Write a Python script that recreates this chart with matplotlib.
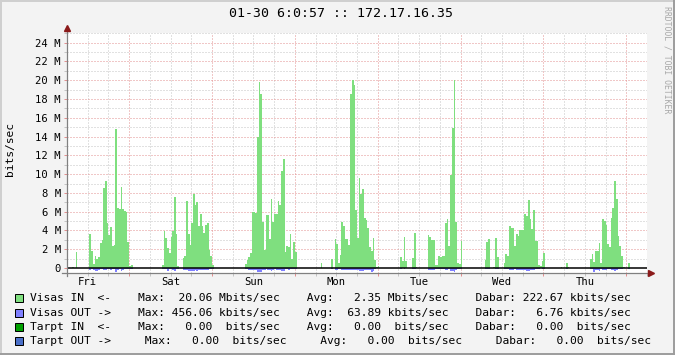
import numpy as np
import matplotlib
matplotlib.use("Agg")
import matplotlib.pyplot as plt
from matplotlib.patches import Rectangle
from matplotlib.lines import Line2D

W, H = 675, 355
MONO = "DejaVu Sans Mono"

TITLE = "01-30 6:0:57 :: 172.17.16.35"
WATERMARK = "RRDTOOL / TOBI OETIKER"
DAYS = ["Fri", "Sat", "Sun", "Mon", "Tue", "Wed", "Thu"]
STEP_H = 0.5  # hours per sample, graph starts Fri 06:00

# Mbit/s, 48 samples per day (each block starts 06:00)
visas_in = [
    0, 0, 0, 0.1, 0, 1.7, 0, 0, 0, 0, 0, 0,
    0, 3.6, 1.85, 0.43, 1.28, 1.0, 1.17, 2.66, 3.0, 8.5, 9.27, 4.83,
    3.55, 4.37, 2.34, 2.45, 14.8, 6.4, 6.3, 8.6, 6.25, 6.1, 5.96, 2.77,
    0.25, 0.32, 0, 0, 0, 0, 0, 0, 0, 0, 0, 0,
    # Sat
    0, 0, 0, 0, 0, 0, 0, 0.3, 3.9, 3.2, 2.13, 1.56,
    3.34, 3.9, 7.56, 3.62, 0.2, 0, 0, 1.06, 1.28, 7.1, 3.6, 2.5,
    4.8, 7.9, 6.75, 7.0, 4.47, 5.75, 4.47, 3.76, 4.6, 4.75, 1.95, 1.3,
    0.28, 0, 0, 0, 0, 0, 0, 0, 0, 0, 0, 0,
    # Sun
    0, 0, 0, 0, 0, 0, 0, 0.43, 0.9, 1.2, 1.6, 5.93,
    5.93, 5.9, 13.95, 19.8, 18.5, 4.9, 1.92, 5.6, 5.6, 3.12, 7.35, 4.9,
    5.75, 5.75, 7.1, 6.7, 10.3, 11.6, 1.7, 2.3, 2.2, 3.6, 1.0, 2.8,
    1.7, 0, 0, 0, 0, 0, 0, 0, 0, 0, 0, 0,
    # Mon
    0, 0, 0, 0.53, 0, 0, 0, 0, 0, 0.96, 0, 3.12,
    2.56, 0.5, 1.38, 4.9, 4.47, 3.1, 3.1, 2.4, 18.5, 20.06, 19.45, 6.17,
    3.2, 9.6, 7.9, 8.4, 5.3, 5.15, 4.26, 2.24, 1.85, 3.2, 0.9, 0.1,
    0.2, 0, 0, 0, 0, 0, 0, 0, 0, 0, 0, 0,
    # Tue
    0, 1.17, 0.7, 3.3, 0.7, 0, 0, 0, 1.06, 3.73, 0.1, 0,
    0, 0, 0, 0, 0, 3.5, 3.3, 3.0, 3.0, 0.32, 0.32, 1.28,
    1.14, 1.28, 1.28, 4.8, 5.2, 2.34, 9.9, 14.9, 20.0, 4.9, 0.53, 0.43,
    2.9, 0, 0, 0, 0, 0, 0, 0, 0, 0, 0, 0,
    # Wed
    0, 0, 0.85, 2.77, 3.1, 0, 0, 0.1, 3.2, 1.17, 0, 0,
    0, 0.53, 1.5, 1.28, 4.47, 4.3, 4.3, 2.34, 3.62, 3.4, 4.05, 4.05,
    4.05, 5.75, 5.54, 7.24, 5.22, 4.12, 6.18, 2.84, 2.84, 0.32, 0.2, 0.7,
    1.56, 0, 0, 0, 0, 0, 0, 0, 0, 0, 0.1, 0,
    # Thu
    0, 0.53, 0.1, 0, 0, 0, 0, 0, 0, 0, 0, 0,
    0, 0, 0, 0.96, 1.5, 0.64, 1.81, 1.81, 2.66, 0.53, 5.22, 5.0,
    4.58, 2.56, 2.24, 5.32, 6.39, 9.27, 7.35, 3.4, 2.34, 1.28, 0.1, 0,
    0, 0.53, 0, 0, 0, 0, 0, 0, 0, 0, 0, 0,
]

# Mbit/s, drawn below the zero line
visas_out = [
    0, 0, 0, 0, 0, 0, 0, 0, 0, 0, 0, 0,
    0, 0.18, 0.15, 0.18, 0.35, 0.33, 0.18, 0.15, 0.15, 0.18, 0.18, 0.15,
    0.15, 0.18, 0.15, 0.15, 0.4, 0.2, 0.15, 0.33, 0.18, 0.15, 0.15, 0.12,
    0.1, 0.1, 0, 0, 0, 0, 0, 0, 0, 0, 0, 0,
    # Sat
    0, 0, 0, 0, 0, 0, 0, 0.15, 0.15, 0.15, 0.28, 0.15,
    0.15, 0.18, 0.28, 0.15, 0.1, 0, 0, 0.18, 0.18, 0.18, 0.35, 0.33,
    0.35, 0.3, 0.2, 0.33, 0.18, 0.18, 0.2, 0.18, 0.18, 0.18, 0.15, 0.12,
    0.1, 0, 0, 0, 0, 0, 0, 0, 0, 0, 0, 0,
    # Sun
    0, 0, 0, 0, 0, 0, 0, 0.12, 0.15, 0.18, 0.18, 0.2,
    0.2, 0.22, 0.42, 0.45, 0.4, 0.18, 0.18, 0.15, 0.18, 0.18, 0.3, 0.18,
    0.15, 0.18, 0.18, 0.18, 0.3, 0.3, 0.15, 0.15, 0.18, 0.15, 0.12, 0.12,
    0.1, 0, 0, 0, 0, 0, 0, 0, 0, 0, 0, 0,
    # Mon
    0, 0, 0, 0.05, 0, 0, 0, 0, 0, 0.08, 0, 0.18,
    0.18, 0.1, 0.15, 0.18, 0.18, 0.18, 0.18, 0.18, 0.2, 0.22, 0.22, 0.18,
    0.18, 0.33, 0.35, 0.3, 0.18, 0.18, 0.2, 0.18, 0.38, 0.35, 0.1, 0.05,
    0.05, 0, 0, 0, 0, 0, 0, 0, 0, 0, 0, 0,
    # Tue
    0, 0.06, 0.05, 0.1, 0.05, 0, 0, 0, 0.06, 0.1, 0.05, 0,
    0, 0, 0, 0, 0, 0.18, 0.18, 0.18, 0.18, 0.06, 0.06, 0.1,
    0.1, 0.1, 0.1, 0.18, 0.2, 0.15, 0.3, 0.33, 0.38, 0.2, 0.06, 0.06,
    0.15, 0, 0, 0, 0, 0, 0, 0, 0, 0, 0, 0,
    # Wed
    0, 0, 0.08, 0.1, 0.12, 0, 0, 0.05, 0.15, 0.1, 0, 0,
    0, 0.06, 0.12, 0.1, 0.18, 0.18, 0.18, 0.15, 0.18, 0.18, 0.18, 0.18,
    0.18, 0.2, 0.3, 0.33, 0.2, 0.18, 0.2, 0.15, 0.15, 0.06, 0.05, 0.08,
    0.1, 0, 0, 0, 0, 0, 0, 0, 0, 0, 0.03, 0,
    # Thu
    0, 0.06, 0.03, 0, 0, 0, 0, 0, 0, 0, 0, 0,
    0, 0, 0, 0.12, 0.15, 0.456, 0.18, 0.18, 0.28, 0.08, 0.2, 0.2,
    0.18, 0.15, 0.15, 0.18, 0.2, 0.3, 0.22, 0.15, 0.12, 0.1, 0.03, 0,
    0, 0.06, 0, 0, 0, 0, 0, 0, 0, 0, 0, 0,
]

LEG_NAMES = ["Visas IN  <-", "Visas OUT ->", "Tarpt IN  <-", "Tarpt OUT ->"]
LEG_MAX = [20.06, 456.06, 0.00, 0.00]
LEG_MAX_U = ["M", "k", " ", " "]
LEG_AVG = [2.35, 63.89, 0.00, 0.00]
LEG_AVG_U = ["M", "k", " ", " "]
LEG_CUR = [222.67, 6.76, 0.00, 0.00]
LEG_CUR_U = ["k", "k", " ", " "]
LEG_GAP = [4, 4, 4, 5]
COLORS = ["#7fdf7f", "#8080ff", "#00a000", "#4a6fc8"]

MINOR = "#c4c4c4"
MAJOR = "#e39090"
ARROW = "#8b1a1a"


def fx(px):
    return px / W


def fy(py):
    return 1 - py / H


fig = plt.figure(figsize=(W / 100, H / 100), dpi=100, facecolor="#f3f3f3")
ax = fig.add_axes([fx(67), fy(272.7), 580 / W, (272.7 - 32.8) / H])
ax.set_facecolor("white")
ax.set_xlim(0, 168)
ax.set_ylim(-0.5, 25.05)
for s in ax.spines.values():
    s.set_visible(False)

# dotted grid under the data, like rrdtool
for h in range(0, 169, 6):
    c = MAJOR if (h - 18) % 24 == 0 else MINOR
    ax.axvline(h, color=c, lw=0.72, ls=(0, (1, 2)), zorder=1)
for v in range(1, 26):
    c = MAJOR if v % 2 == 0 else MINOR
    ax.axhline(v, color=c, lw=0.72, ls=(0, (1, 2)), zorder=1)

edges = np.arange(len(visas_in) + 1) * STEP_H
ax.stairs(visas_in, edges, fill=True, color=COLORS[0], lw=0, zorder=3)
ax.stairs(-np.array(visas_out), edges, fill=True, color=COLORS[1], lw=0,
          zorder=3)
ax.axhline(0, color="black", lw=1.1, zorder=5)

# ticks
ax.set_xticks(np.arange(18, 168, 24))
ax.set_xticks(np.arange(0, 169, 6), minor=True)
ax.set_yticks(np.arange(0, 25, 2))
ax.set_yticks(np.arange(0, 26, 1), minor=True)
ax.set_yticklabels(["0"] + [f"{v} M" for v in range(2, 25, 2)],
                   family=MONO, fontsize=7.6)
ax.tick_params(axis="x", which="both", labelbottom=False, direction="out",
               length=2.2, width=0.72)
ax.tick_params(axis="x", which="major", color=MAJOR)
ax.tick_params(axis="x", which="minor", color=MINOR)
ax.tick_params(axis="y", which="both", direction="out", length=2.2,
               width=0.72, pad=2.2)
ax.tick_params(axis="y", which="major", color=MAJOR)
ax.tick_params(axis="y", which="minor", color=MINOR)

for i, d in enumerate(DAYS):
    ax.annotate(d, xy=(6 + 24 * i, -0.5), xytext=(0, -6.8),
                textcoords="offset points", ha="center", va="center",
                family=MONO, fontsize=7.6)

# axis lines with arrows
ax.plot([-1.45, 169.0], [-0.5, -0.5], color="#808080", lw=0.9,
        clip_on=False, zorder=6)
ax.plot([169.2], [-0.5], marker=">", ms=4.2, color=ARROW, clip_on=False,
        zorder=7)
ax.plot([0, 0], [-0.85, 25.5], color="#808080", lw=0.9, clip_on=False,
        zorder=6)
ax.plot([0], [25.6], marker="^", ms=4.2, color=ARROW, clip_on=False, zorder=7)

fig.text(fx(341), fy(13.5), TITLE, family=MONO, fontsize=9.5,
         ha="center", va="center")
fig.text(fx(10), fy(149), "bits/sec", family=MONO, fontsize=8.1,
         rotation=90, ha="center", va="center")
fig.text(fx(667), fy(60), WATERMARK, family=MONO, fontsize=5.9,
         rotation=270, ha="center", va="center", color="#a8a8a8")

# legend
rows_y = [298, 313, 327, 341]
for i in range(4):
    gap = " " * LEG_GAP[i]
    line = (f"{LEG_NAMES[i]}{gap}Max: {LEG_MAX[i]:6.2f} {LEG_MAX_U[i]}bits/sec"
            f"{gap}Avg: {LEG_AVG[i]:6.2f} {LEG_AVG_U[i]}bits/sec"
            f"{gap}Dabar: {LEG_CUR[i]:6.2f} {LEG_CUR_U[i]}bits/sec")
    fig.text(fx(30), fy(rows_y[i]), line, family=MONO, fontsize=8.15,
             ha="left", va="center")
    fig.add_artist(Rectangle((fx(15), fy(rows_y[i] + 4)), 8 / W, 8 / H,
                             transform=fig.transFigure, facecolor=COLORS[i],
                             edgecolor="black", lw=0.72))

# outer frame: light top/left, dark bottom/right
fig.add_artist(Line2D([0, 1], [fy(0.8), fy(0.8)], color="#cfcfcf", lw=1.4,
                      transform=fig.transFigure))
fig.add_artist(Line2D([fx(0.8), fx(0.8)], [0, 1], color="#cfcfcf", lw=1.4,
                      transform=fig.transFigure))
fig.add_artist(Line2D([0, 1], [fy(354.2), fy(354.2)], color="#9c9c9c",
                      lw=1.4, transform=fig.transFigure))
fig.add_artist(Line2D([fx(674.2), fx(674.2)], [0, 1], color="#9c9c9c",
                      lw=1.4, transform=fig.transFigure))

fig.savefig("out.png", dpi=100, facecolor=fig.get_facecolor())
